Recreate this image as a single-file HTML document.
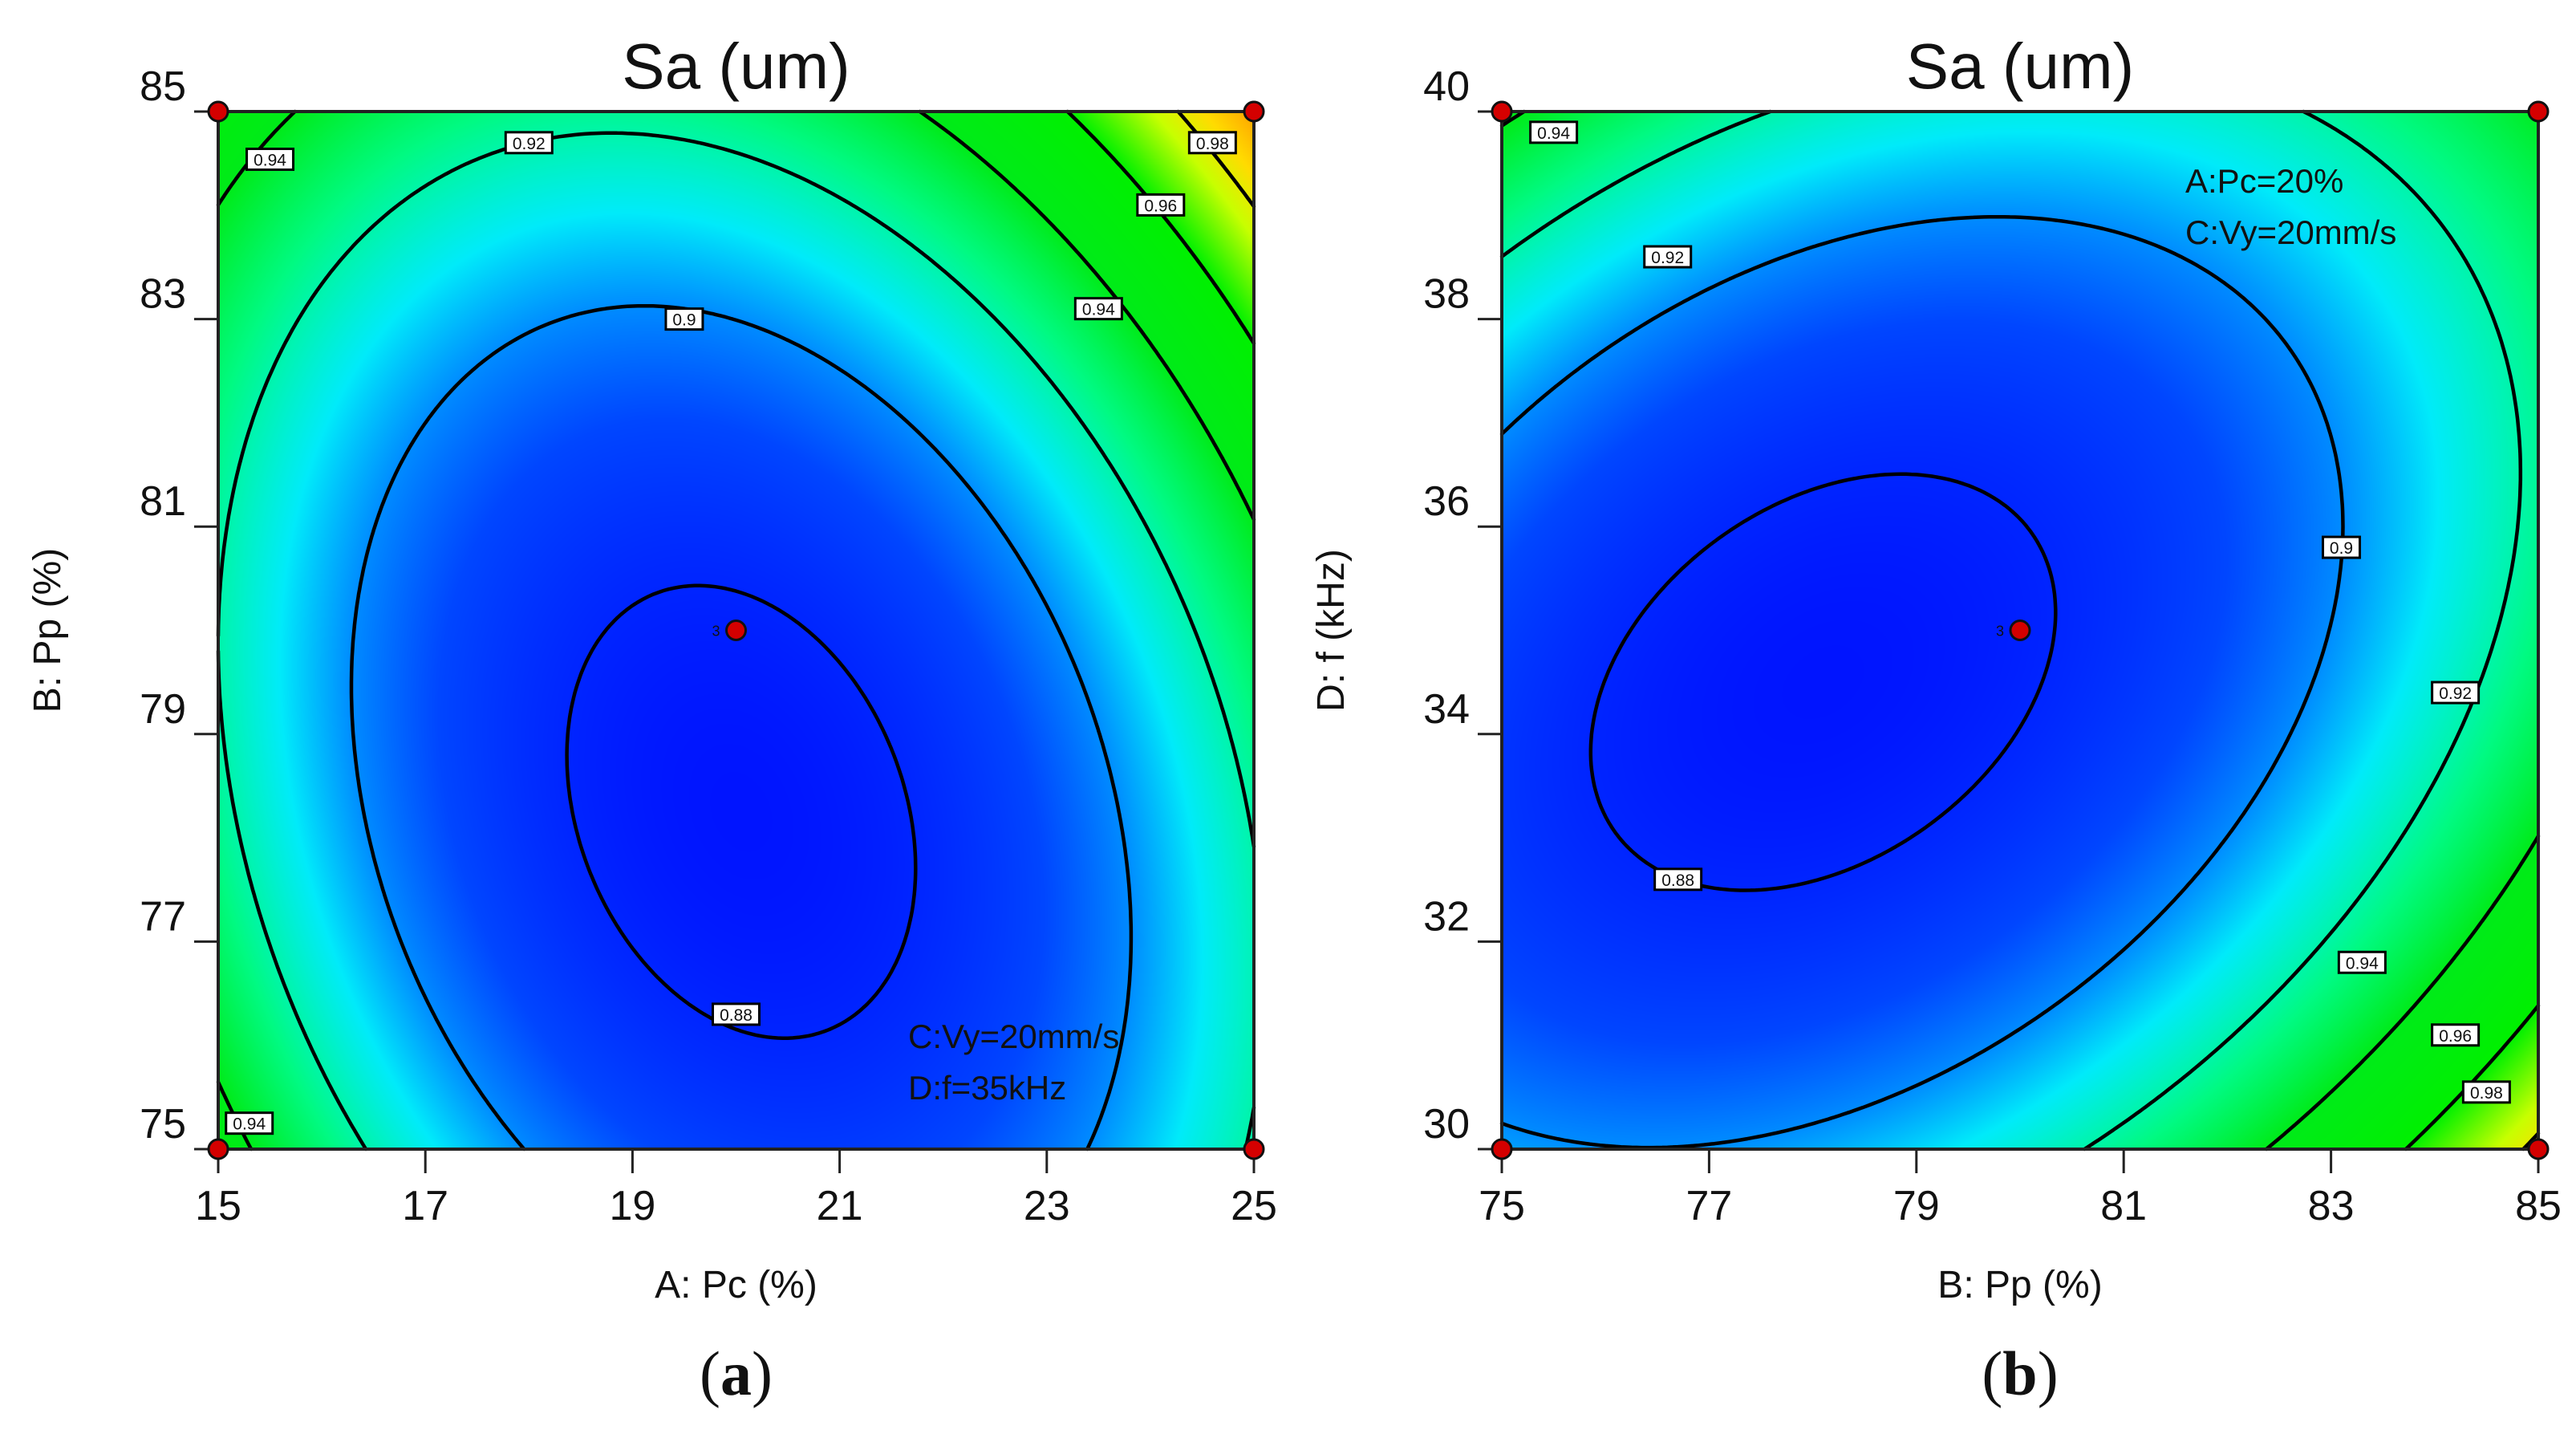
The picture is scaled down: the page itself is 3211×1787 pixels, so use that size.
<!DOCTYPE html>
<html><head><meta charset="utf-8">
<style>
html,body{margin:0;padding:0;background:#fff;width:3211px;height:1787px;overflow:hidden}
#root{position:relative;width:3211px;height:1787px}
canvas{position:absolute}
svg{position:absolute;left:0;top:0}
text{font-family:"Liberation Sans",sans-serif;fill:#111}
</style></head>
<body>
<div id="root">
<canvas id="fieldA"></canvas>
<canvas id="fieldB"></canvas>
<svg id="ov" width="3211" height="1787"></svg>
</div>
<script>
// ---- data ----
const contourLevels = [0.88, 0.90, 0.92, 0.94, 0.96, 0.98];
// panel a: A: Pc (15-25) x, B: Pp (75-85) y
const aXTicks = [15, 17, 19, 21, 23, 25];
const aYTicks = [75, 77, 79, 81, 83, 85];
// model: [min, centerX(coded), centerY(coded), xx, yy, xy]
const aModel = [0.875, 0.01, -0.35, 0.047, 0.028, 0.018];
const aLabels = [[15.5,84.54,"0.94"],[18.0,84.7,"0.92"],[24.6,84.7,"0.98"],[24.1,84.1,"0.96"],[23.5,83.1,"0.94"],[19.5,83.0,"0.9"],[20.0,76.3,"0.88"],[15.3,75.25,"0.94"]];
const aPoints = [[15,85],[25,85],[15,75],[25,75],[20,80]];
// panel b: B: Pp (75-85) x, D: f (30-40) y
const bXTicks = [75, 77, 79, 81, 83, 85];
const bYTicks = [30, 32, 34, 36, 38, 40];
const bModel = [0.875, -0.38, -0.1, 0.028, 0.035, -0.021];
const bLabels = [[75.5,39.8,"0.94"],[76.6,38.6,"0.92"],[83.1,35.8,"0.9"],[84.2,34.4,"0.92"],[83.3,31.8,"0.94"],[84.2,31.1,"0.96"],[84.5,30.55,"0.98"],[76.7,32.6,"0.88"]];
const bPoints = [[75,40],[85,40],[75,30],[85,30],[80,35]];

const stops=[[0.875,[0,20,255]],[0.89,[0,70,255]],[0.90,[0,140,255]],[0.91,[0,235,250]],[0.925,[0,250,130]],[0.94,[0,235,25]],[0.96,[0,240,0]],[0.975,[200,255,0]],[0.985,[255,220,0]],[1.0,[255,140,0]],[1.03,[255,40,0]]];
function col(v){
  if(v<=stops[0][0]) return stops[0][1];
  for(let i=1;i<stops.length;i++){ if(v<=stops[i][0]){const t=(v-stops[i-1][0])/(stops[i][0]-stops[i-1][0]);const a=stops[i-1][1],b=stops[i][1];return [a[0]+(b[0]-a[0])*t,a[1]+(b[1]-a[1])*t,a[2]+(b[2]-a[2])*t];}}
  return stops[stops.length-1][1];
}
const NS="http://www.w3.org/2000/svg";
const ov=document.getElementById('ov');
function el(tag,attrs,parent){const e=document.createElementNS(NS,tag);for(const k in attrs)e.setAttribute(k,attrs[k]);(parent||ov).appendChild(e);return e;}

function panel(cfg){
  const {L,R,T,B,xT,yT,model,labels,points,canvasId,title,xTitle,yTitle,letter,notes,key}=cfg;
  const x0=xT[0],x1=xT[xT.length-1],y0=yT[0],y1=yT[yT.length-1];
  const sx=v=>L+(v-x0)/(x1-x0)*(R-L), sy=v=>B-(v-y0)/(y1-y0)*(B-T);
  const f=(xv,yv)=>{const cx=(xv-(x0+x1)/2)/((x1-x0)/2)-model[1],cy=(yv-(y0+y1)/2)/((y1-y0)/2)-model[2];return model[0]+model[3]*cx*cx+model[4]*cy*cy+model[5]*cx*cy;};
  const cv=document.getElementById(canvasId);const W=R-L,H=B-T;
  cv.width=W;cv.height=H;cv.style.left=L+'px';cv.style.top=T+'px';
  const ctx=cv.getContext('2d');const img=ctx.createImageData(W,H);
  for(let j=0;j<H;j++){const yv=y1-(j+0.5)/H*(y1-y0);for(let i=0;i<W;i++){const xv=x0+(i+0.5)/W*(x1-x0);const c=col(f(xv,yv));const p=(j*W+i)*4;img.data[p]=c[0];img.data[p+1]=c[1];img.data[p+2]=c[2];img.data[p+3]=255;}}
  ctx.putImageData(img,0,0);
  const g=el('g',{});
  
  
  const N=200;
  const gv=[];for(let j=0;j<=N;j++){gv.push([]);for(let i=0;i<=N;i++)gv[j].push(f(x0+i/N*(x1-x0),y0+j/N*(y1-y0)));}
  contourLevels.forEach(lv=>{
    let d='';
    for(let j=0;j<N;j++)for(let i=0;i<N;i++){
      const v=[gv[j][i],gv[j][i+1],gv[j+1][i+1],gv[j+1][i]];
      const c=[[i,j],[i+1,j],[i+1,j+1],[i,j+1]];const pts=[];
      for(let k=0;k<4;k++){const a=v[k],b=v[(k+1)%4];if((a<lv)!==(b<lv)){const t=(lv-a)/(b-a);const p=c[k],q=c[(k+1)%4];pts.push([p[0]+(q[0]-p[0])*t,p[1]+(q[1]-p[1])*t]);}}
      for(let k=0;k+1<pts.length;k+=2){const X=p=>sx(x0+p[0]/N*(x1-x0)).toFixed(1),Y=p=>sy(y0+p[1]/N*(y1-y0)).toFixed(1);d+=`M${X(pts[k])} ${Y(pts[k])}L${X(pts[k+1])} ${Y(pts[k+1])}`;}
    }
    if(d){const p=el('path',{d:d,stroke:'#000','stroke-width':4.5,fill:'none','stroke-linecap':'round'},g);
      
      }
  });
  const fr=el('rect',{x:L,y:T,width:R-L,height:B-T,fill:'none',stroke:'#222','stroke-width':4},g);
  
  
  labels.forEach(lb=>{
    const cx=sx(lb[0]),cy=sy(lb[1]);const w=lb[2].length*12+10;
    const lg=el('g',{},g);
    
    
    el('rect',{x:cx-w/2,y:cy-13,width:w,height:26,fill:'#fff',stroke:'#000','stroke-width':3},lg);
    el('text',{x:cx,y:cy+8,'font-size':21,'text-anchor':'middle'},lg).textContent=lb[2];
  });
  xT.forEach(t=>{const x=sx(t);
    const tk=el('line',{x1:x,y1:B,x2:x,y2:B+30,stroke:'#222','stroke-width':3},g);
    
    
    const tx=el('text',{x:x,y:B+88,'font-size':52,'text-anchor':'middle'},g);tx.textContent=t;
    
    });
  yT.forEach(t=>{const y=sy(t);
    const tk=el('line',{x1:L-30,y1:y,x2:L,y2:y,stroke:'#222','stroke-width':3},g);
    
    
    const tx=el('text',{x:L-40,y:y-14,'font-size':52,'text-anchor':'end'},g);tx.textContent=t;
    
    });
  points.forEach((p,ix)=>{
    const c=el('circle',{cx:sx(p[0]),cy:sy(p[1]),r:12,fill:'#d40000',stroke:'#111','stroke-width':3},g);
    
    
    if(ix===4){const t=el('text',{x:sx(p[0])-30,y:sy(p[1])+7,'font-size':18,'fill':'#002'},g);t.textContent='3';}
  });
  const mid=(L+R)/2;
  const tt=el('text',{x:mid,y:110,'font-size':80,'text-anchor':'middle'},g);tt.textContent=title;
  
  
  const xt=el('text',{x:mid,y:1617,'font-size':48,'text-anchor':'middle'},g);xt.textContent=xTitle;
  
  
  const yc=(T+B)/2,yx=L-197;
  const yt=el('text',{x:yx,y:yc,'font-size':48,'text-anchor':'middle',transform:`rotate(-90 ${yx} ${yc})`},g);yt.textContent=yTitle;
  
  
  const lt=el('text',{x:mid,y:1738,'font-size':78,'text-anchor':'middle','style':'font-family:"Liberation Serif",serif'},g);
  lt.innerHTML='(<tspan font-weight="bold">'+letter+'</tspan>)';
  
  
  notes.forEach(n=>{const t=el('text',{x:n[0],y:n[1],'font-size':42},g);t.textContent=n[2];
    
    });
}
panel({L:272,R:1563,T:139,B:1432,xT:aXTicks,yT:aYTicks,model:aModel,labels:aLabels,points:aPoints,canvasId:'fieldA',title:'Sa (um)',xTitle:'A: Pc (%)',yTitle:'B: Pp (%)',letter:'a',notes:[[1132,1306,'C:Vy=20mm/s'],[1132,1370,'D:f=35kHz']],key:'panel-a'});
panel({L:1872,R:3164,T:139,B:1432,xT:bXTicks,yT:bYTicks,model:bModel,labels:bLabels,points:bPoints,canvasId:'fieldB',title:'Sa (um)',xTitle:'B: Pp (%)',yTitle:'D: f (kHz)',letter:'b',notes:[[2724,240,'A:Pc=20%'],[2724,304,'C:Vy=20mm/s']],key:'panel-b'});
</script>
</body></html>
